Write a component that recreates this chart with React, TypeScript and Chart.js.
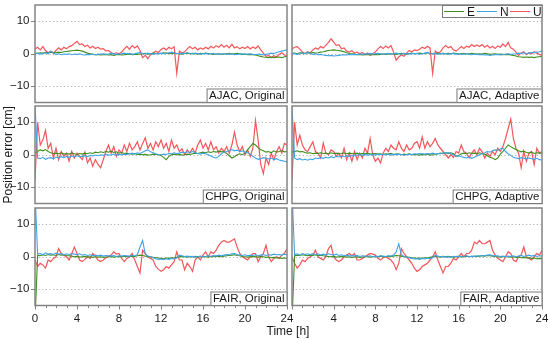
import React, { useEffect, useRef } from "react";
import { Chart, registerables } from "chart.js";

Chart.register(...registerables);

const FONT = "'Liberation Sans', Arial, Helvetica, sans-serif";
Chart.defaults.font.family = FONT;

const SERIES = ["E", "N", "U"];
const SERIES_COLORS = ["#3f8e1f", "#3ea3e6", "#f2575b"];
const SERIES_WIDTHS = [1.1, 1.1, 1.2];
const SERIES_ORDER = [1, 0, 2];
const HOUR_TICKS = [0, 1, 2, 3, 4, 5, 6, 7, 8, 9, 10, 11, 12, 13, 14, 15, 16, 17, 18, 19, 20, 21, 22, 23, 24];
const HOUR_LABELS = [0, 4, 8, 12, 16, 20, 24];
const Y_TICKS = [-10, 0, 10];
const Y_MIN = -15;
const Y_MAX = 15;
const X_MIN = 0;
const X_MAX = 24;

// values sampled every 15 minutes, one line = 3 hours, last value = 24 h
const AJAC_ORIGINAL_E = [
  0.2, 0.1, 0.3, 0.2, 0.4, 0.3, 0.5, 0.4, 0.3, 0.5, 0.4, 0.6,
  0.7, 0.8, 0.9, 1.0, 1.1, 1.0, 0.8, 0.5, 0.2, 0.0, -0.2, -0.3,
  -0.2, -0.4, -0.3, -0.2, -0.4, -0.3, -0.5, -0.3, -0.2, -0.4, -0.3, -0.2,
  -0.1, -0.3, -0.2, -0.2, -0.1, 0.0, 0.1, -0.1, 0.0, 0.2, 0.1, 0.0,
  0.1, 0.3, 0.2, 0.1, 0.0, 0.2, 0.1, 0.0, -0.1, 0.1, 0.2, 0.0,
  0.1, 0.0, -0.1, 0.1, 0.0, 0.2, 0.1, 0.0, -0.2, -0.1, 0.0, -0.2,
  -0.1, 0.0, 0.1, -0.1, 0.0, 0.1, 0.0, -0.2, -0.1, -0.3, -0.2, -0.3,
  -0.4, -0.6, -0.8, -1.0, -1.1, -1.2, -1.0, -1.2, -1.1, -1.0, -1.2, -0.9,
  -0.8,
];
const AJAC_ORIGINAL_N = [
  0.0, 0.2, -0.1, 0.1, 0.3, 0.0, 0.8, 0.2, -0.2, 0.0, -0.3, -0.1,
  -0.2, 0.0, -0.3, -0.1, -0.2, 0.0, -0.3, -0.4, -0.2, -0.3, -0.1, -0.3,
  -0.2, -0.1, 0.0, -0.2, -0.1, 0.1, 0.0, -0.2, -0.1, 0.0, 0.2, 0.0,
  0.1, -0.1, 0.0, 0.2, 0.4, 0.1, 0.0, 0.2, 0.0, -0.1, 0.1, 0.0,
  0.2, 0.0, 0.1, 0.3, 0.5, 0.2, 0.1, 0.0, 0.2, 0.1, 0.3, 0.1,
  0.0, 0.2, 0.1, -0.1, 0.0, 0.1, -0.1, 0.0, 0.1, -0.2, 0.0, -0.1,
  0.0, -0.2, -0.1, 0.0, -0.3, -0.2, -0.1, 0.0, -0.2, -0.1, 0.0, -0.2,
  -0.3, -0.1, -0.2, -0.4, -0.2, 0.0, 0.2, 0.1, 0.4, 0.6, 0.8, 1.0,
  1.2,
];
const AJAC_ORIGINAL_U = [
  1.5, 2.0, 1.2, 2.2, 1.0, 0.3, 0.8, 0.2, 1.0, 1.8, 1.2, 2.0,
  1.5, 2.2, 2.5, 3.2, 3.8, 2.8, 3.0, 2.2, 2.6, 1.8, 2.3, 1.6,
  2.0, 1.4, 1.6, 0.9, 1.0, 0.4, 0.0, 0.3, 0.0, 0.5, 1.5, 2.3,
  1.4, 2.5, 1.8, 2.4, 1.0, -1.2, -0.5, -1.5, -0.3, 0.2, 0.8, 0.4,
  1.3, 1.8, 1.2, 2.0, 1.5, 2.2, -6.0, 0.8, 0.2, 0.6, 1.5, 2.2,
  1.5, 2.0, 1.2, 1.8, 1.4, 2.0, 1.5, 2.3, 1.8, 2.5, 2.0, 2.8,
  2.0, 2.6, 1.8, 2.9, 1.8, 2.2, 1.5, 2.0, 1.6, 2.2, 1.5, 2.1,
  1.6, 2.4, 1.2, 0.2, -0.8, -0.5, -1.2, -0.6, -1.0, -0.2, 0.3, -0.4,
  -0.6,
];

const AJAC_ADAPTIVE_E = [
  0.1, 0.2, 0.0, 0.3, 0.2, 0.1, 0.3, 0.2, 0.4, 0.2, 0.3, 0.5,
  0.6, 0.8, 1.0, 1.1, 1.2, 1.1, 1.0, 0.8, 0.6, 0.3, 0.1, 0.0,
  -0.1, -0.3, -0.2, -0.4, -0.3, -0.2, -0.4, -0.3, -0.2, -0.3, -0.2, -0.1,
  -0.2, -0.1, 0.0, -0.1, -0.2, 0.0, 0.1, 0.0, -0.1, 0.1, 0.2, 0.0,
  0.1, 0.2, 0.1, 0.0, 0.3, 0.1, 0.0, 0.1, 0.2, 0.0, 0.1, 0.0,
  0.1, 0.0, 0.2, 0.1, -0.1, 0.0, 0.1, 0.0, -0.1, 0.1, 0.0, -0.1,
  0.0, -0.1, 0.1, 0.0, -0.2, -0.1, 0.0, -0.2, -0.1, -0.2, -0.3, -0.2,
  -0.4, -0.5, -0.7, -0.9, -1.0, -1.1, -1.0, -1.1, -1.0, -1.2, -1.0, -0.9,
  -0.8,
];
const AJAC_ADAPTIVE_N = [
  0.0, 0.1, -0.2, 0.0, 0.3, 0.0, 0.5, 0.1, -0.2, 0.0, -0.3, -0.2,
  -0.4, -0.5, -0.6, -0.5, -0.7, -0.6, -0.5, -0.4, -0.3, -0.4, -0.2, -0.3,
  -0.2, -0.3, -0.1, -0.2, 0.0, -0.1, 0.1, -0.1, 0.0, 0.1, 0.0, -0.1,
  0.0, 0.1, -0.1, 0.0, 0.2, 0.0, -0.1, 0.1, 0.0, -0.1, 0.1, 0.0,
  0.1, -0.1, 0.0, 0.2, 0.4, 0.1, 0.0, 0.1, -0.1, 0.0, 0.1, 0.0,
  -0.1, 0.0, 0.1, -0.1, 0.0, -0.2, -0.1, 0.0, -0.2, -0.3, -0.1, -0.2,
  -0.3, -0.2, -0.4, -0.3, -0.5, -0.4, -0.3, -0.2, -0.4, -0.3, -0.1, 0.0,
  -0.2, -0.1, 0.0, 0.2, 0.1, 0.3, 0.0, 0.2, 0.4, 0.3, 0.5, 0.6,
  0.8,
];
const AJAC_ADAPTIVE_U = [
  1.5, 2.0, 2.2, 1.4, 0.5, 0.0, 0.6, 0.3, 1.2, 1.8, 1.4, 2.2,
  1.8, 2.6, 3.5, 4.6, 3.6, 2.6, 2.8, 1.5, 1.8, 0.8, 0.5, 0.9,
  0.2, 0.5, 0.0, 0.4, -0.3, 0.2, -0.5, 0.0, 0.5, 1.5, 2.2, 1.6,
  2.4, 1.8, 2.5, 0.5, -2.0, -1.0, -0.4, -0.8, 0.2, 1.0, 0.6, 1.2,
  1.0, 1.4, 2.0, 1.6, 2.3, 1.8, -6.0, 0.8, 0.2, 0.6, 1.8, 2.5,
  1.8, 2.2, 1.2, 0.8, 1.5, 2.2, 1.6, 2.3, 2.0, 2.8, 2.2, 2.7,
  2.2, 2.8, 2.0, 2.6, 1.8, 2.3, 1.6, 2.4, 2.0, 3.0, 2.2, 3.5,
  1.8, 1.4, 0.5, -0.5, 0.2, 0.6, -0.3, 0.3, 0.0, 0.6, 0.2, -0.2,
  -0.5,
];

const CHPG_ORIGINAL_E = [
  0.5, 1.0, 1.5, 1.2, 1.6, 1.0, 0.6, 0.4, 0.5, 0.3, 0.6, 0.2,
  0.4, 0.2, 0.5, 0.3, 0.1, 0.4, 0.2, 0.5, 0.3, 0.6, 0.4, 0.8,
  0.6, 0.9, 0.7, 1.0, 0.8, 1.1, 0.7, 0.9, 0.5, 0.7, 0.4, 0.5,
  0.3, 0.2, 0.4, 0.1, 0.2, 0.0, 0.1, -0.1, 0.0, 0.2, 0.1, 0.0,
  -0.2, -0.8, -1.5, -0.5, 0.0, 0.2, 0.0, 0.1, -0.1, 0.0, 0.2, 0.1,
  0.3, 0.5, 0.4, 0.6, 0.8, 0.6, 0.9, 0.7, 1.0, 0.8, 1.1, 0.9,
  1.0, 0.4, -0.3, -1.0, -0.6, 0.0, 0.3, 0.0, 0.5, 1.5, 2.5, 3.5,
  3.0, 2.2, 1.5, 1.2, 0.8, 1.0, 0.6, 1.2, 0.8, 1.0, 1.3, 0.9,
  1.0,
];
const CHPG_ORIGINAL_N = [
  15.0, -1.0, -1.2, -0.8, -1.4, -1.0, -0.9, -1.3, -0.7, -1.0, -0.6, -0.9,
  -0.5, -0.8, -0.4, -0.7, -0.3, -0.6, -0.5, -0.3, -0.6, -0.2, -0.4, -0.1,
  -0.3, 0.0, -0.2, 0.1, -0.1, 0.0, 0.2, -0.1, 0.1, 0.0, 0.2, 0.1,
  0.3, 0.5, 0.2, 0.6, 0.4, 0.8, 1.2, 1.5, 0.9, 0.6, 0.3, 0.1,
  0.0, 0.2, 0.1, 0.4, 0.3, 0.6, 0.4, 0.5, 0.8, 0.6, 0.9, 0.7,
  1.0, 0.6, 0.4, 0.2, 0.5, 0.3, 0.0, -0.4, -0.8, -1.0, -0.5, 0.3,
  0.8, 1.0, 1.3, 1.6, 1.2, 1.4, 1.0, 1.2, 0.8, 0.6, 0.2, -0.5,
  -1.0, -1.4, -1.2, -0.9, -1.1, -1.3, -1.0, -1.5, -1.2, -1.6, -1.8, -2.0,
  -2.2,
];
const CHPG_ORIGINAL_U = [
  -8.0, 10.0, 3.0, 4.5, 7.5, 2.0, 3.5, -1.0, 2.0, -1.5, 1.0, -0.5,
  0.5, -2.0, 1.0, -1.0, 0.5, -0.5, -1.5, 0.8, -2.5, -1.0, -3.5, -1.5,
  -3.0, -4.0, -1.5, 1.0, 3.0, 0.5, 2.5, -0.5, 1.5, 0.5, 3.0, 1.0,
  3.5, 1.5, 2.5, 4.0, 1.5, 3.5, 5.2, 2.0, 3.5, 1.5, 4.0, 2.5,
  4.5, 2.0, 3.5, 1.0, 4.5, 2.0, 3.0, 1.0, 1.8, 0.0, 1.5, 0.5,
  2.0, 0.5, 3.0, 4.5, 2.0, 3.5, 1.5, 4.0, 1.5, 2.5, 0.5, 2.0,
  1.0, 2.5, 0.5, 3.0, 7.0, 3.0, 1.0, 2.5, 0.0, 1.5, -0.5, 2.0,
  10.5, 4.5, -3.0, -5.8, -1.0, -3.0, 0.5, -1.5, 1.0, 2.5, 0.5, 3.5,
  3.0,
];

const CHPG_ADAPTIVE_E = [
  0.8, 1.0, 1.2, 0.9, 1.0, 0.7, 0.5, 0.6, 0.3, 0.5, 0.4, 0.6,
  0.4, 0.5, 0.3, 0.6, 0.4, 0.5, 0.3, 0.4, 0.6, 0.3, 0.5, 0.4,
  0.3, 0.5, 0.2, 0.4, 0.3, 0.5, 0.2, 0.3, 0.4, 0.2, 0.3, 0.1,
  0.3, 0.2, 0.4, 0.1, 0.3, 0.2, 0.0, 0.2, 0.1, 0.3, 0.0, 0.1,
  0.0, -0.1, 0.1, 0.0, 0.2, -0.1, 0.0, 0.1, 0.3, 0.5, 0.3, 0.6,
  0.4, 0.6, 0.3, -0.5, -0.2, 0.3, 0.5, 0.3, 0.6, 0.4, 0.5, 0.3,
  0.6, 0.4, 0.2, -0.3, -0.8, -1.0, -1.5, -1.0, 0.2, 1.0, 2.0, 3.0,
  2.5, 2.0, 1.6, 1.2, 0.9, 1.1, 0.7, 0.5, 0.8, 0.4, 0.6, 0.5,
  0.5,
];
const CHPG_ADAPTIVE_N = [
  15.0, -1.0, -1.5, -1.2, -1.6, -1.4, -1.7, -1.3, -1.5, -1.0, -1.2, -0.9,
  -1.1, -0.8, -1.0, -0.6, -0.9, -0.5, -0.7, -0.4, -0.6, -0.3, -0.5, -0.2,
  -0.3, -0.1, 0.0, -0.2, 0.1, -0.1, 0.0, 0.1, -0.1, 0.2, 0.0, 0.1,
  0.0, 0.2, -0.1, 0.1, 0.0, 0.2, 0.1, -0.1, 0.0, 0.2, 0.1, 0.3,
  0.2, 0.4, 0.3, 0.2, 0.4, 0.3, 0.5, 0.2, 0.4, 0.3, 0.6, 0.5,
  0.7, 0.3, 0.0, -0.5, -0.3, -0.6, -0.8, -1.0, -0.7, -1.1, -0.8, -0.4,
  0.0, 0.3, 0.6, 1.0, 0.8, 1.2, 1.5, 1.3, 1.8, 2.0, 1.0, 0.3,
  -0.2, -0.8, -1.0, -1.2, -0.9, -1.1, -1.3, -1.0, -1.2, -1.4, -1.1, -1.5,
  -1.6,
];
const CHPG_ADAPTIVE_U = [
  -8.0, 10.0, 3.0, 6.0, 3.0, 1.5, 1.0, 2.5, 4.0, 1.0, 0.5, -1.0,
  3.6, 0.5, 0.0, 1.5, 1.0, -0.5, 0.5, -1.0, 2.0, -1.5, 0.5, -2.0,
  1.0, -1.5, 0.5, -1.0, 2.0, 0.5, 5.0, 0.0, -2.0, -1.0, -2.5, 0.5,
  2.0, 1.0, 3.0, 2.0, 1.5, 4.0, 2.0, 1.0, 3.0, 1.5, 2.0, 3.5,
  4.0, 2.0, 5.5, 2.0, 4.0, 2.5, 3.5, 5.0, 3.0, 2.0, 1.0, 0.0,
  -1.0, 0.0, -0.8, 1.0, 0.5, 3.0, 1.0, 0.5, -1.0, 0.5, 1.5, 0.0,
  2.0, 1.0, -1.0, 0.5, -0.5, 1.0, 0.0, 2.0, 1.0, 2.5, 5.0, 8.0,
  11.0, 5.0, 2.0, 0.5, -4.0, 1.0, -2.0, 0.5, 1.0, -3.0, 2.0, 0.5,
  1.0,
];

const FAIR_ORIGINAL_E = [
  -20.0, 0.5, 0.3, 0.6, 0.4, 0.7, 0.5, 0.6, 0.4, 0.7, 0.5, 0.6,
  0.4, 0.3, 0.2, 0.0, 0.1, -0.1, 0.0, 0.1, -0.1, 0.0, -0.2, 0.0,
  -0.1, 0.0, -0.2, -0.1, 0.0, 0.1, -0.1, 0.0, 0.1, 0.0, 0.2, 0.1,
  0.0, 0.2, 0.1, 0.3, 0.5, 0.4, 0.2, 0.1, 0.0, -0.2, -0.3, -0.4,
  -0.5, -0.6, -0.4, -0.5, -0.3, -0.4, -0.2, 0.0, 0.1, 0.0, -0.1, 0.1,
  0.0, 0.1, -0.1, 0.0, 0.1, 0.0, -0.1, 0.1, 0.0, 0.2, 0.1, 0.0,
  0.2, 0.3, 0.4, 0.5, 0.6, 0.4, 0.3, 0.1, 0.0, -0.1, 0.0, 0.1,
  0.0, -0.1, 0.1, 0.0, -0.2, -0.1, -0.3, -0.2, -0.4, -0.3, -0.5, -0.4,
  -0.5,
];
const FAIR_ORIGINAL_N = [
  20.0, 0.8, 1.0, 0.6, 1.2, 0.8, 1.0, 0.7, 1.1, 0.8, 1.0, 0.6,
  0.9, 0.7, 1.0, 0.8, 0.6, 0.9, 0.5, 0.7, 0.4, 0.6, 0.3, 0.5,
  0.3, 0.5, 0.2, 0.4, 0.3, 0.2, 0.4, 0.1, 0.3, 0.2, 0.4, 0.3,
  0.2, 0.4, 0.3, 0.6, 3.0, 5.0, 0.8, 0.2, 0.0, -0.3, -0.6, -0.8,
  -0.7, -0.9, -0.6, -0.8, -0.5, -0.7, -0.4, 0.5, 0.3, 0.1, 0.2, 0.0,
  0.1, -0.1, 0.0, 0.2, 0.0, 0.1, 0.3, 0.1, 0.4, 0.2, 0.5, 0.3,
  0.5, 0.7, 0.6, 0.9, 1.0, 0.7, 0.5, 0.4, 0.6, 0.3, 0.5, 0.4,
  0.6, 0.3, 0.5, 0.7, 0.4, 0.6, 0.5, 0.8, 0.6, 0.7, 0.5, 0.8,
  0.6,
];
const FAIR_ORIGINAL_U = [
  -1.0, -3.0, -2.0, -2.5, -3.5, -1.0, -1.5, -0.5, 0.0, 2.5, 1.0, 0.5,
  0.0, -1.0, 1.0, 3.0, 1.0, -1.0, -1.5, -0.8, 0.0, -0.5, 1.0, 0.2,
  -1.0, -1.5, -1.0, -0.3, 0.0, 0.5, 1.5, 0.8, 1.0, -0.5, -1.5, -0.5,
  0.0, 1.0, -1.0, -3.0, -5.0, 2.0, 1.0, 0.0, -0.5, -1.0, -3.0, -3.8,
  -4.5, -4.0, -3.0, -3.5, -2.5, -1.5, 1.5, -1.0, -1.0, -4.0, -2.0, -3.0,
  -4.5, -1.0, 0.0, -1.0, 0.5, 1.5, 0.0, 1.5, 1.0, 2.0, 3.5, 4.5,
  5.0, 4.5, 4.5, 5.0, 5.5, 3.0, 1.0, 0.0, -0.5, -1.0, 0.0, 1.0,
  1.0, -1.5, 0.0, 1.0, 3.5, 0.0, -1.5, -0.5, 0.0, -0.5, 0.5, 1.0,
  2.5,
];

const FAIR_ADAPTIVE_E = [
  -20.0, 0.3, 0.5, 0.4, 0.6, 0.5, 0.3, 0.5, 0.4, 0.6, 0.3, 0.5,
  0.3, 0.2, 0.1, 0.0, 0.1, -0.1, 0.0, 0.1, 0.0, -0.1, 0.0, -0.2,
  -0.1, 0.0, -0.2, -0.1, 0.0, 0.1, -0.1, 0.0, 0.1, 0.0, 0.2, 0.1,
  0.0, 0.2, 0.1, 0.2, 0.4, 0.3, 0.2, 0.0, -0.1, -0.2, -0.3, -0.4,
  -0.5, -0.4, -0.5, -0.3, -0.4, -0.2, 0.0, 0.1, 0.0, -0.1, 0.1, 0.0,
  0.1, 0.0, -0.1, 0.1, 0.0, 0.1, 0.0, 0.2, 0.1, 0.0, 0.2, 0.1,
  0.2, 0.3, 0.2, 0.4, 0.3, 0.2, 0.1, 0.0, -0.1, 0.0, 0.1, 0.0,
  -0.1, 0.0, -0.2, -0.1, -0.3, -0.2, -0.4, -0.3, -0.5, -0.4, -0.6, -0.5,
  -0.6,
];
const FAIR_ADAPTIVE_N = [
  20.0, 0.6, 0.9, 0.5, 1.0, 0.7, 0.9, 0.6, 1.0, 0.7, 0.9, 0.5,
  0.8, 0.6, 0.9, 0.7, 0.5, 0.8, 0.4, 0.6, 0.3, 0.5, 0.2, 0.4,
  0.2, 0.4, 0.1, 0.3, 0.2, 0.1, 0.3, 0.0, 0.2, 0.1, 0.3, 0.2,
  0.1, 0.3, 0.2, 0.5, 1.5, 4.0, 0.6, 0.1, -0.1, -0.3, -0.5, -0.7,
  -0.6, -0.8, -0.5, -0.7, -0.4, -0.6, -0.3, 0.4, 0.2, 0.0, 0.1, -0.1,
  0.0, -0.2, 0.1, 0.0, 0.2, 0.0, 0.1, 0.3, 0.0, 0.2, 0.1, 0.3,
  0.2, 0.4, 0.3, 0.5, 0.6, 0.4, 0.2, 0.3, 0.1, 0.2, 0.0, 0.2,
  0.1, 0.3, 0.0, 0.2, 0.4, 0.1, 0.3, 0.5, 0.2, 0.4, 0.1, 0.3,
  0.2,
];
const FAIR_ADAPTIVE_U = [
  0.0, -2.0, -3.5, -2.5, -1.0, -1.5, -0.5, 0.0, 0.5, 2.0, 0.0, -0.5,
  -1.0, 0.0, 2.5, 3.5, 0.0, -1.0, -1.5, -1.0, 0.0, 0.5, 1.0, 0.3,
  1.0, -1.0, -1.0, -0.5, 0.0, 0.5, 1.0, 0.8, 0.5, -0.5, -1.0, -0.3,
  0.0, -0.5, -1.0, -2.0, -4.0, -2.0, 2.5, 1.0, 0.0, -1.0, -2.0, -3.5,
  -4.5, -4.0, -3.0, -2.5, -2.0, -1.0, 0.0, 1.5, -1.0, -3.0, -5.0, -3.0,
  -3.0, -2.0, -0.5, -1.0, 0.0, 1.0, 0.0, 1.0, 1.0, 2.0, 4.5, 4.0,
  5.0, 4.0, 4.0, 4.5, 5.0, 2.0, 0.5, -0.5, -1.0, -1.5, 0.0, 1.5,
  1.0, -1.0, -1.5, 0.0, 0.5, 3.0, 0.0, -0.5, -1.0, 0.0, 1.0, 0.5,
  2.0,
];

type PanelCfg = {
  label: string;
  E: number[];
  N: number[];
  U: number[];
  col: number;
  row: number;
};

const PANELS: PanelCfg[] = [
  { label: "AJAC, Original", E: AJAC_ORIGINAL_E, N: AJAC_ORIGINAL_N, U: AJAC_ORIGINAL_U, col: 0, row: 0 },
  { label: "AJAC, Adaptive", E: AJAC_ADAPTIVE_E, N: AJAC_ADAPTIVE_N, U: AJAC_ADAPTIVE_U, col: 1, row: 0 },
  { label: "CHPG, Original", E: CHPG_ORIGINAL_E, N: CHPG_ORIGINAL_N, U: CHPG_ORIGINAL_U, col: 0, row: 1 },
  { label: "CHPG, Adaptive", E: CHPG_ADAPTIVE_E, N: CHPG_ADAPTIVE_N, U: CHPG_ADAPTIVE_U, col: 1, row: 1 },
  { label: "FAIR, Original", E: FAIR_ORIGINAL_E, N: FAIR_ORIGINAL_N, U: FAIR_ORIGINAL_U, col: 0, row: 2 },
  { label: "FAIR, Adaptive", E: FAIR_ADAPTIVE_E, N: FAIR_ADAPTIVE_N, U: FAIR_ADAPTIVE_U, col: 1, row: 2 },
];

const Y_TITLE = "Position error [cm]";
const X_TITLE = "Time [h]";

// layout geometry (pixels)
const COLS = [
  { x: 0, w: 298, padLeft: 0, padRight: 11, yAxisW: 35 },
  { x: 290, w: 260, padLeft: 2, padRight: 8, yAxisW: 0 },
];
const ROWS = [
  { y: 0, h: 104, padTop: 5, padBottom: 1.5, xAxisH: 0 },
  { y: 104, h: 102, padTop: 2, padBottom: 2.5, xAxisH: 0 },
  { y: 206, h: 134, padTop: 2, padBottom: 14.5, xAxisH: 20 },
];

const toPoints = (vals: number[]) =>
  vals.map((v, i) => ({ x: X_MIN + (i * (X_MAX - X_MIN)) / (vals.length - 1), y: v }));

const fmtY = (v: number) => (v < 0 ? "\u2212" + Math.abs(v) : String(v));

const panelPlugin = {
  id: "panelDeco",
  beforeDatasetsDraw(chart: any) {
    const { ctx, chartArea: a, scales } = chart;
    ctx.save();
    ctx.strokeStyle = "#b0b0b0";
    ctx.lineWidth = 1;
    ctx.setLineDash([1.2, 2.4]);
    for (const v of Y_TICKS) {
      const y = Math.round(scales.y.getPixelForValue(v)) + 0.5;
      ctx.beginPath();
      ctx.moveTo(a.left, y);
      ctx.lineTo(a.right, y);
      ctx.stroke();
    }
    ctx.restore();
  },
  afterDatasetsDraw(chart: any, _a: any, opts: any) {
    const { ctx, chartArea: a, scales } = chart;
    ctx.save();
    ctx.setLineDash([]);
    ctx.strokeStyle = "#808080";
    ctx.lineWidth = 1;
    if (opts.yTicks) {
      for (const v of Y_TICKS) {
        const y = Math.round(scales.y.getPixelForValue(v)) + 0.5;
        ctx.beginPath();
        ctx.moveTo(a.left - 4, y);
        ctx.lineTo(a.left, y);
        ctx.stroke();
      }
    }
    if (opts.xTicks) {
      for (const h of HOUR_TICKS) {
        const x = Math.round(scales.x.getPixelForValue(h)) + 0.5;
        const len = HOUR_LABELS.includes(h) ? 4 : 2.5;
        ctx.beginPath();
        ctx.moveTo(x, a.bottom);
        ctx.lineTo(x, a.bottom + len);
        ctx.stroke();
      }
    }
    // frame
    ctx.strokeStyle = "#848484";
    ctx.lineWidth = 1.5;
    ctx.strokeRect(a.left, a.top, a.right - a.left, a.bottom - a.top);

    // panel label box
    ctx.font = "11.5px " + FONT;
    const tw = ctx.measureText(opts.label).width;
    const bw = tw + 5;
    const bh = 14;
    const bx = a.right - bw;
    const by = a.bottom - bh;
    ctx.fillStyle = "#ffffff";
    ctx.fillRect(bx, by, bw, bh);
    ctx.lineWidth = 1;
    ctx.strokeStyle = "#7a7a7a";
    ctx.strokeRect(bx + 0.5, by + 0.5, bw - 0.5, bh - 0.5);
    ctx.fillStyle = "#1a1a1a";
    ctx.textBaseline = "middle";
    ctx.textAlign = "left";
    ctx.fillText(opts.label, bx + 2.5, by + bh / 2 + 0.5);

    // legend
    if (opts.legend) {
      const lw = 100;
      const lh = 12.5;
      const lx = a.right - lw;
      const ly = a.top;
      ctx.fillStyle = "#ffffff";
      ctx.fillRect(lx, ly, lw, lh);
      ctx.strokeStyle = "#7a7a7a";
      ctx.strokeRect(lx + 0.5, ly + 0.5, lw - 0.5, lh - 0.5);
      ctx.font = "12px " + FONT;
      chart.data.datasets.forEach((ds: any, i: number) => {
        const sx = lx + 2 + i * 33;
        const yy = Math.round(ly + lh / 2) + 0.5;
        ctx.strokeStyle = ds.borderColor;
        ctx.lineWidth = 1;
        ctx.beginPath();
        ctx.moveTo(sx, yy);
        ctx.lineTo(sx + 20, yy);
        ctx.stroke();
        ctx.fillStyle = "#1a1a1a";
        ctx.textAlign = "left";
        ctx.fillText(ds.label, sx + 23, ly + lh / 2 + 1);
      });
    }
    ctx.restore();
  },
};

function Panel({ cfg }: { cfg: PanelCfg }) {
  const ref = useRef<HTMLCanvasElement>(null);
  const C = COLS[cfg.col];
  const R = ROWS[cfg.row];
  const isLeft = cfg.col === 0;
  const isBottom = cfg.row === ROWS.length - 1;

  useEffect(() => {
    const seriesData = [cfg.E, cfg.N, cfg.U];
    const chart = new Chart(ref.current as HTMLCanvasElement, {
      type: "line",
      data: {
        datasets: SERIES.map((name, i) => ({
          label: name,
          data: toPoints(seriesData[i]),
          borderColor: SERIES_COLORS[i],
          backgroundColor: SERIES_COLORS[i],
          borderWidth: SERIES_WIDTHS[i],
          pointRadius: 0,
          tension: 0,
          fill: false,
          order: SERIES_ORDER[i],
        })),
      },
      options: {
        animation: false,
        responsive: false,
        events: [],
        layout: {
          padding: { left: C.padLeft, right: C.padRight, top: R.padTop, bottom: R.padBottom },
        },
        scales: {
          x: {
            type: "linear",
            min: X_MIN,
            max: X_MAX,
            display: isBottom,
            grid: { display: false, drawTicks: false, tickLength: 0 },
            border: { display: false },
            afterBuildTicks: (s: any) => {
              s.ticks = HOUR_LABELS.map((v) => ({ value: v }));
            },
            afterFit: (s: any) => {
              s.height = R.xAxisH;
              s.paddingLeft = 0;
              s.paddingRight = 0;
            },
            ticks: {
              autoSkip: false,
              maxRotation: 0,
              padding: 6,
              color: "#1a1a1a",
              font: { size: 11.5, family: FONT },
              callback: (v: any) => (!isLeft && v === X_MIN ? "" : String(v)),
            },
          },
          y: {
            type: "linear",
            min: Y_MIN,
            max: Y_MAX,
            display: isLeft,
            grid: { display: false, drawTicks: false, tickLength: 0 },
            border: { display: false },
            afterBuildTicks: (s: any) => {
              s.ticks = Y_TICKS.map((v) => ({ value: v }));
            },
            afterFit: (s: any) => {
              s.width = C.yAxisW;
              s.paddingTop = 0;
              s.paddingBottom = 0;
            },
            ticks: {
              padding: 5.5,
              color: "#1a1a1a",
              font: { size: 11.5, family: FONT },
              callback: (v: any) => fmtY(Number(v)),
            },
            title: {
              display: isLeft && cfg.row === 1,
              text: Y_TITLE,
              color: "#1a1a1a",
              font: { size: 12, family: FONT },
              padding: { top: 1, bottom: 0 },
            },
          },
        },
        plugins: {
          legend: { display: false },
          tooltip: { enabled: false },
          panelDeco: {
            label: cfg.label,
            legend: cfg.row === 0 && cfg.col === 1,
            yTicks: isLeft,
            xTicks: isBottom,
          },
        } as any,
      },
      plugins: [panelPlugin],
    });
    return () => chart.destroy();
  }, []);

  return (
    <canvas
      ref={ref}
      width={C.w}
      height={R.h}
      style={{ position: "absolute", left: C.x, top: R.y, width: C.w, height: R.h }}
    />
  );
}

export default function App() {
  return (
    <div
      style={{
        position: "fixed",
        left: 0,
        top: 0,
        width: 550,
        height: 340,
        background: "#ffffff",
        overflow: "hidden",
        fontFamily: FONT,
      }}
    >
      {PANELS.map((p) => (
        <Panel key={p.label} cfg={p} />
      ))}
      <div
        style={{
          position: "absolute",
          left: 0,
          width: 576,
          top: 324,
          textAlign: "center",
          fontSize: 12,
          lineHeight: "14px",
          color: "#1a1a1a",
        }}
      >
        {X_TITLE}
      </div>
    </div>
  );
}
